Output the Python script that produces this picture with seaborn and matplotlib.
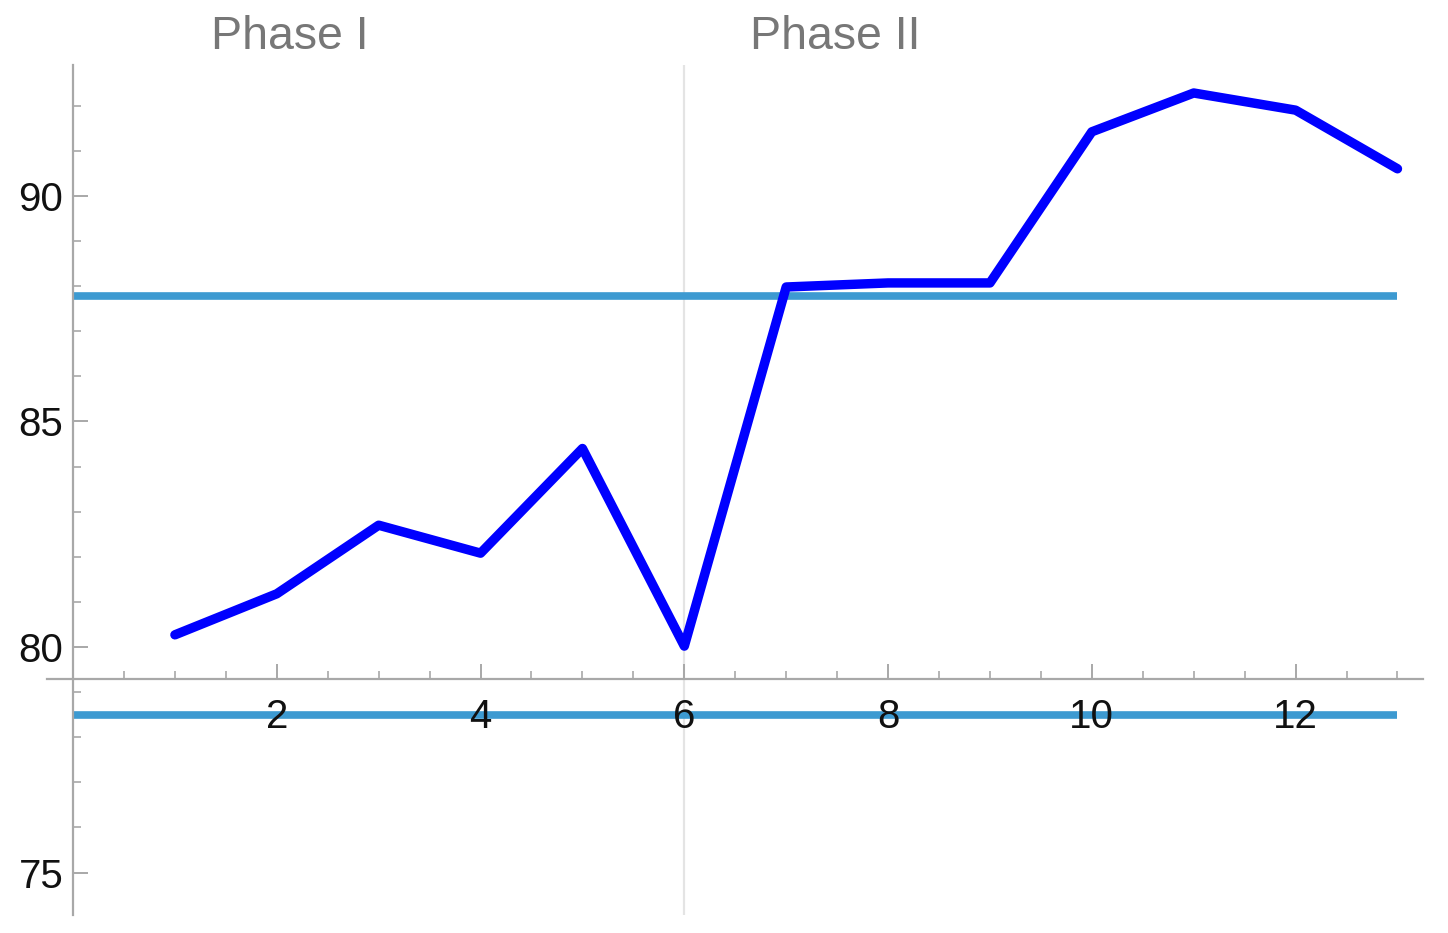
import numpy as np
import pandas as pd
import matplotlib
matplotlib.use("Agg")
import matplotlib.pyplot as plt
from matplotlib.ticker import MultipleLocator
import seaborn as sns

# values
steps = [1, 2, 3, 4, 5, 6, 7, 8, 9, 10, 11, 12, 13]
scores = [80.27, 81.18, 82.7, 82.08, 84.4, 80.02, 87.98, 88.07, 88.07, 91.42, 92.28, 91.9, 90.6]
upper_ref = 87.78
lower_ref = 78.49
phase_split = 6
phase_names = ["Phase I", "Phase II"]
phase_pos = [2.13, 7.48]

df = pd.DataFrame({"step": steps, "score": scores})

sns.set_style("white")
plt.rcParams['font.family'] = ['Liberation Sans', 'DejaVu Sans']

fig = plt.figure(figsize=(14.48, 9.33), dpi=100)
ax = fig.add_axes([0.0325, 0.0193, 0.9502, 0.911])

axis_grey = "#a8a8a8"
ref_blue = "#3d9ad1"

ax.axvline(phase_split, color="#e4e4e4", lw=1.6, zorder=0)
ax.hlines([upper_ref, lower_ref], 0, 13, color=ref_blue, lw=5.5, zorder=1)
sns.lineplot(data=df, x="step", y="score", color="#0000ff", lw=6.8, ax=ax, zorder=3)

ax.set_xlim(-0.255, 13.25)
ax.set_ylim(74.06, 92.9)

for s in ["top", "right"]:
    ax.spines[s].set_visible(False)
ax.spines["left"].set_position(("data", 0))
ax.spines["bottom"].set_position(("data", 79.3))
for s in ["left", "bottom"]:
    ax.spines[s].set_color(axis_grey)
    ax.spines[s].set_linewidth(1.6)
    ax.spines[s].set_zorder(2)

ax.xaxis.set_major_locator(MultipleLocator(2))
ax.xaxis.set_minor_locator(MultipleLocator(0.5))
ax.yaxis.set_major_locator(MultipleLocator(5))
ax.yaxis.set_minor_locator(MultipleLocator(1))
ax.set_xticks([2, 4, 6, 8, 10, 12])
ax.set_yticks([75, 80, 85, 90])

ax.tick_params(axis="both", which="both", bottom=True, left=True, top=False, right=False)
ax.tick_params(axis="both", which="major", direction="in", length=11,
               width=1.4, color=axis_grey, labelsize=29, labelcolor="#111111")
ax.tick_params(axis="both", which="minor", direction="in", length=6,
               width=1.2, color=axis_grey)
ax.tick_params(axis="x", which="major", pad=14)
ax.tick_params(axis="y", which="major", pad=7)
ax.xaxis.set_zorder(2.5)
ax.yaxis.set_zorder(2.5)

ax.set_xlabel("")
ax.set_ylabel("")

for name, xp in zip(phase_names, phase_pos):
    ax.text(xp, 1.033, name, transform=ax.get_xaxis_transform(),
            ha="center", va="center", fontsize=33.5, color="#777777")

fig.savefig("out.png", dpi=100)
